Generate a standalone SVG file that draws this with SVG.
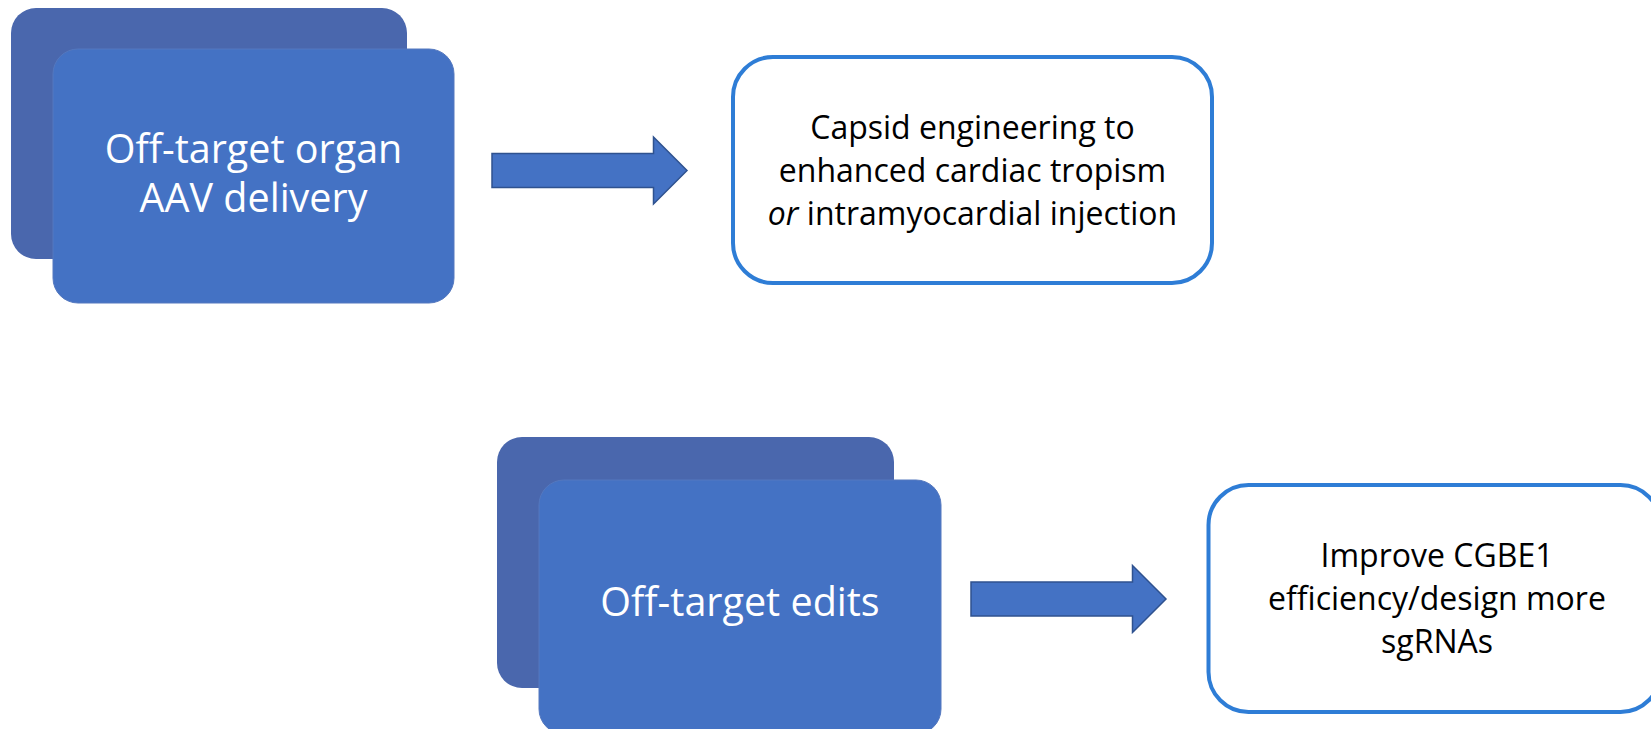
<svg xmlns="http://www.w3.org/2000/svg" width="1651" height="729" viewBox="0 0 1651 729">
  <defs>
    <style>
      .back { fill: #4A67AD; }
      .front { fill: #4472C4; stroke: #5478BF; stroke-width: 1; }
      .box { fill: #FFFFFF; stroke: #2E7DD6; stroke-width: 4; }
      .arrow { fill: #4472C4; stroke: #2F528F; stroke-width: 1.5; stroke-linejoin: miter; }
      .wt { font-family: "Open Sans", "Noto Sans", "Liberation Sans", sans-serif; font-size: 39.5px; fill: #FFFFFF; text-anchor: middle; }
      .bt { font-family: "Open Sans", "Noto Sans", "Liberation Sans", sans-serif; font-size: 32px; fill: #000000; text-anchor: middle; }
    </style>
  </defs>
  <rect width="1651" height="729" fill="#FFFFFF"/>

  <g id="node-offtarget-organ">
    <rect class="back" x="11" y="8" width="396" height="251" rx="25" ry="25"/>
    <rect class="front" x="53" y="49" width="401" height="254" rx="25" ry="25"/>
    <text class="wt" x="253.5" y="163">Off-target organ</text>
    <text class="wt" x="253.5" y="212">AAV delivery</text>
  </g>

  <g id="node-capsid">
    <rect class="box" x="733" y="57" width="479" height="226" rx="40" ry="40"/>
    <text class="bt" x="972.5" y="139">Capsid engineering to</text>
    <text class="bt" x="972.5" y="182">enhanced cardiac tropism</text>
    <text class="bt" x="972.5" y="225"><tspan font-style="italic">or</tspan> intramyocardial injection</text>
  </g>

  <g id="node-offtarget-edits">
    <rect class="back" x="497" y="437" width="397" height="251" rx="25" ry="25"/>
    <rect class="front" x="539" y="480" width="402" height="254" rx="25" ry="25"/>
    <text class="wt" x="740" y="616">Off-target edits</text>
  </g>

  <g id="node-improve">
    <rect class="box" x="1208.5" y="485" width="452" height="227" rx="40" ry="40"/>
    <text class="bt" x="1437" y="567">Improve CGBE1</text>
    <text class="bt" x="1437" y="610">efficiency/design more</text>
    <text class="bt" x="1437" y="653">sgRNAs</text>
  </g>

  <g id="connectors">
    <polygon class="arrow" points="492,153.5 653.5,153.5 653.5,137 687,170.5 653.5,204 653.5,187.5 492,187.5"/>
    <polygon class="arrow" points="971,582 1132.5,582 1132.5,565.5 1166,599 1132.5,632.5 1132.5,616 971,616"/>
  </g>
</svg>
